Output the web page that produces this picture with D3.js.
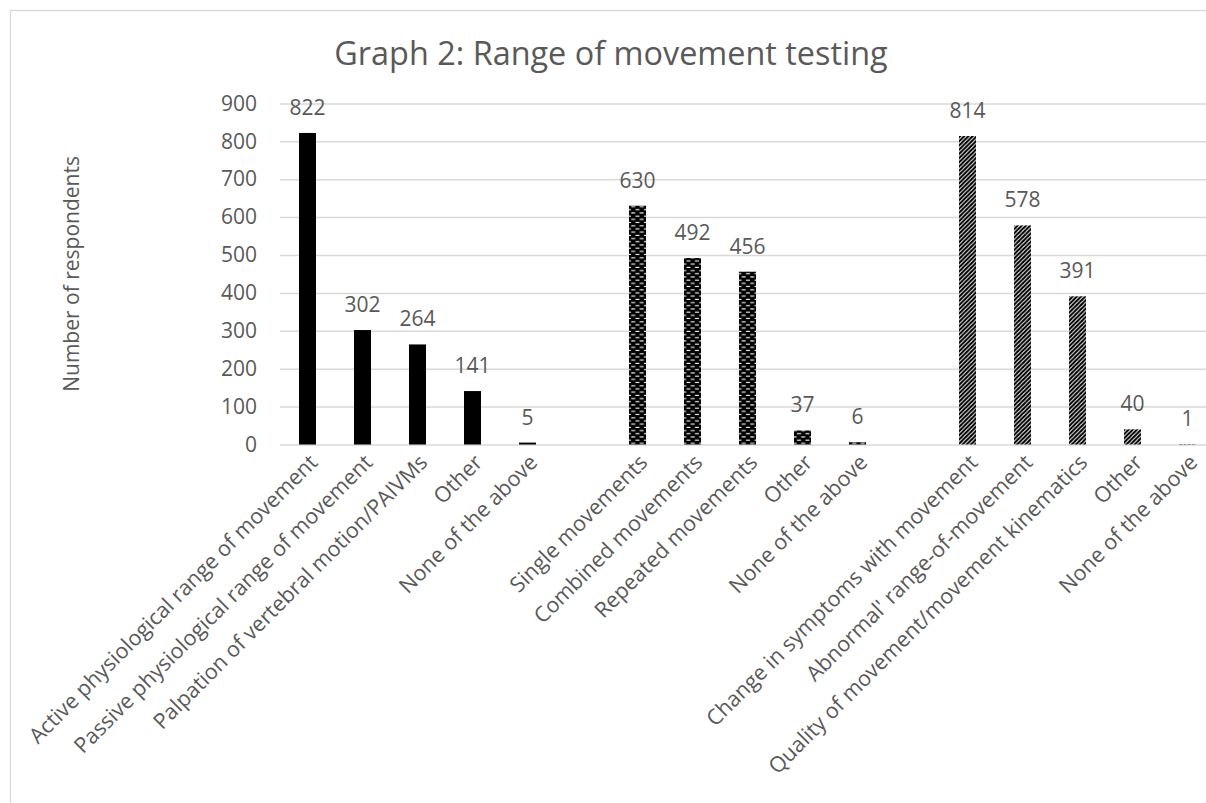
<!DOCTYPE html>
<html>
<head>
<meta charset="utf-8">
<script src="https://cdn.jsdelivr.net/npm/d3@7"></script>
<style>
  body { margin: 0; background: #fff; }
  text { font-family: "Open Sans", sans-serif; fill: #595959; }
</style>
</head>
<body>
<div id="chart-area"></div>
<script>
// Graph 2: range of movement testing, three question groups side by side

const categories = [
  'Active physiological range of movement',
  'Passive physiological range of movement',
  'Palpation of vertebral motion/PAIVMs',
  'Other',
  'None of the above',
  '',
  'Single movements',
  'Combined movements',
  'Repeated movements',
  'Other',
  'None of the above',
  '',
  'Change in symptoms with movement',
  'Abnormal\' range-of-movement',
  'Quality of movement/movement kinematics',
  'Other',
  'None of the above'
];
const values = [822, 302, 264, 141, 5, null, 630, 492, 456, 37, 6, null, 814, 578, 391, 40, 1];
const groups = [0, 0, 0, 0, 0, null, 1, 1, 1, 1, 1, null, 2, 2, 2, 2, 2];
const yTicks = [0, 100, 200, 300, 400, 500, 600, 700, 800, 900];

const W = 1206, H = 803;
const plot = { left: 280, right: 1215, top: 103.4, bottom: 444.5 };

const svg = d3.select('#chart-area').append('svg')
  .attr('width', W)
  .attr('height', H);

// fill patterns for the three groups
const defs = svg.append('defs');

const brick = defs.append('pattern')
  .attr('id', 'pat-brick')
  .attr('patternUnits', 'userSpaceOnUse')
  .attr('width', 8.5).attr('height', 6.4);
brick.append('rect').attr('width', 8.5).attr('height', 6.4).attr('fill', '#000');
brick.append('rect').attr('x', 2.2).attr('y', 1.2).attr('width', 4).attr('height', 1.1).attr('fill', '#fff');
brick.append('rect').attr('x', 6.45).attr('y', 4.4).attr('width', 4).attr('height', 1.1).attr('fill', '#fff');
brick.append('rect').attr('x', -2.05).attr('y', 4.4).attr('width', 4).attr('height', 1.1).attr('fill', '#fff');

const stripe = defs.append('pattern')
  .attr('id', 'pat-stripe')
  .attr('patternUnits', 'userSpaceOnUse')
  .attr('width', 4.2).attr('height', 4.2);
stripe.append('rect').attr('width', 4.2).attr('height', 4.2).attr('fill', '#fff');
stripe.append('path')
  .attr('d', 'M-1.05,1.05 l2.1,-2.1 M0,4.2 l4.2,-4.2 M3.15,5.25 l2.1,-2.1')
  .attr('stroke', '#000')
  .attr('stroke-width', 2);

const fills = ['#000', 'url(#pat-brick)', 'url(#pat-stripe)'];

// chart border
svg.append('rect')
  .attr('x', 10.5).attr('y', 10.5)
  .attr('width', 1210).attr('height', 810)
  .attr('fill', 'none')
  .attr('stroke', '#d9d9d9')
  .attr('stroke-width', 1.3);

const x = d3.scaleBand()
  .domain(d3.range(categories.length))
  .range([plot.left, plot.right])
  .paddingInner(0.691)
  .paddingOuter(0.3455);

const y = d3.scaleLinear()
  .domain([0, 900])
  .range([plot.bottom, plot.top]);

// y axis with gridlines
const yAxis = svg.append('g')
  .attr('transform', `translate(${plot.left}, 0)`)
  .call(d3.axisLeft(y)
    .tickValues(yTicks)
    .tickSize(-(plot.right - plot.left))
    .tickPadding(23));

yAxis.select('.domain').remove();
yAxis.selectAll('line')
  .attr('stroke', '#d9d9d9')
  .attr('stroke-width', 1.5);
yAxis.selectAll('text')
  .attr('font-family', '"Open Sans", sans-serif')
  .attr('font-size', 21)
  .attr('fill', '#595959');

// bars
svg.append('g').selectAll('rect')
  .data(values.map((v, i) => ({ i, v, g: groups[i] })).filter(d => d.v !== null))
  .enter()
  .append('rect')
    .attr('x', d => x(d.i))
    .attr('y', d => y(d.v))
    .attr('width', x.bandwidth())
    .attr('height', d => y(0) - y(d.v))
    .attr('fill', d => fills[d.g]);

// value labels
svg.append('g').selectAll('text')
  .data(values.map((v, i) => ({ i, v })).filter(d => d.v !== null))
  .enter()
  .append('text')
    .attr('x', d => x(d.i) + x.bandwidth() / 2)
    .attr('y', d => y(d.v) - 18)
    .attr('text-anchor', 'middle')
    .attr('font-size', 21)
    .text(d => d.v);

// category labels, rotated
svg.append('g').selectAll('text')
  .data(categories.map((c, i) => ({ c, i })).filter(d => d.c !== ''))
  .enter()
  .append('text')
    .attr('transform', d => `translate(${x(d.i) + x.bandwidth() / 2 + 6}, ${plot.bottom + 14}) rotate(-45)`)
    .attr('text-anchor', 'end')
    .attr('dy', '0.35em')
    .attr('font-size', 21.5)
    .text(d => d.c);

// title
svg.append('text')
  .attr('x', 611)
  .attr('y', 65)
  .attr('text-anchor', 'middle')
  .attr('font-size', 32.4)
  .text('Graph 2: Range of movement testing');

// y axis title
svg.append('text')
  .attr('transform', `translate(79, ${(plot.top + plot.bottom) / 2}) rotate(-90)`)
  .attr('text-anchor', 'middle')
  .attr('font-size', 21)
  .text('Number of respondents');
</script>
</body>
</html>
